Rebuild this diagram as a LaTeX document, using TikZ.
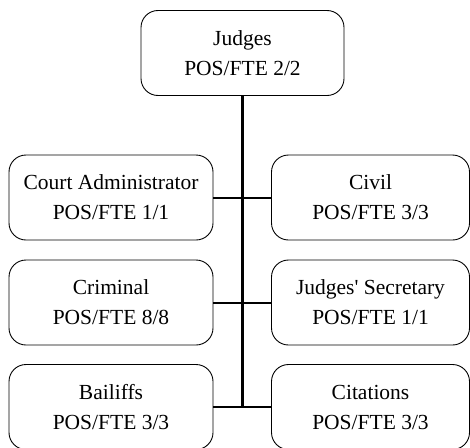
\documentclass[tikz,border=0pt]{standalone}
\usepackage{fontspec}
\setmainfont{Liberation Serif}[Ligatures=TeXOff]
\begin{document}
\begin{tikzpicture}[x=1pt,y=-1pt,
  unit/.style={draw=black, line width=0.9pt, rounded corners=17pt,
    minimum height=85pt, inner sep=0pt, align=center,
    font=\fontsize{21.5}{30}\selectfont},
  lbox/.style={unit, minimum width=204pt},
  rbox/.style={unit, minimum width=198pt},
  trunk/.style={line width=3pt},
  branch/.style={line width=2pt}]
\useasboundingbox (0,0) rectangle (470,447);
\node[unit, minimum width=203pt] (judges) at (242.5,53) {Judges\\POS/FTE 2/2};
\node[lbox] (court) at (111,197.5) {Court Administrator\\POS/FTE 1/1};
\node[rbox] (civil) at (370.5,197.5) {Civil\\POS/FTE 3/3};
\node[lbox] (criminal) at (111,302.5) {Criminal\\POS/FTE 8/8};
\node[rbox] (secretary) at (370.5,302.5) {Judges' Secretary\\POS/FTE 1/1};
\node[lbox] (bailiffs) at (111,407) {Bailiffs\\POS/FTE 3/3};
\node[rbox] (citations) at (370.5,407) {Citations\\POS/FTE 3/3};
\coordinate (bottom) at (242,408);
\draw[trunk] (judges.south -| bottom) -- (bottom);
\draw[branch] (court.east) -- (civil.west);
\draw[branch] (criminal.east) -- (secretary.west);
\draw[branch] (bailiffs.east) -- (citations.west);
\end{tikzpicture}
\end{document}
